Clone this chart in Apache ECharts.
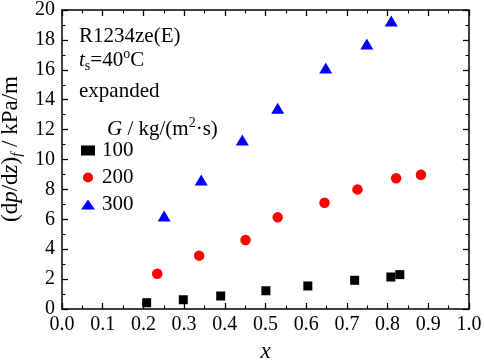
<!DOCTYPE html>
<html><head><meta charset="utf-8">
<script src="https://cdn.jsdelivr.net/npm/echarts@6/dist/echarts.min.js"></script>
<style>html,body{margin:0;padding:0;background:#fff}#c{width:484px;height:362px}</style>
</head><body><div id="c"></div>
<script>
var seriesNames = ['100', '200', '300'];
var x100 = [0.208, 0.298, 0.390, 0.501, 0.604, 0.719, 0.808, 0.830];
var y100 = [0.42, 0.62, 0.87, 1.22, 1.54, 1.92, 2.14, 2.30];
var x200 = [0.234, 0.337, 0.451, 0.530, 0.645, 0.726, 0.821, 0.882];
var y200 = [2.36, 3.57, 4.62, 6.13, 7.11, 8.00, 8.74, 8.98];
var x300 = [0.251, 0.342, 0.443, 0.530, 0.648, 0.749, 0.809];
var y300 = [6.22, 8.63, 11.30, 13.42, 16.12, 17.73, 19.26];

function pairs(xs, ys){ return xs.map(function(v,i){return [v, ys[i]];}); }

var FONT = '"Liberation Serif", "Times New Roman", serif';
var chart = echarts.init(document.getElementById('c'), null, {renderer:'canvas'});
var axisCommon = {
  axisLine:{show:true, onZero:false, lineStyle:{color:'#000', width:1.5}},
  axisTick:{show:true, inside:true, length:6, lineStyle:{color:'#000', width:1.3}},
  minorTick:{show:true, splitNumber:2, length:3.5, lineStyle:{color:'#000', width:1.1}},
  splitLine:{show:false}
};
function ax(extra){ return Object.assign({}, JSON.parse(JSON.stringify(axisCommon)), extra); }

chart.setOption({
  animation:false,
  backgroundColor:'#fff',
  grid:{left:62, right:15, top:10, bottom:53, containLabel:false, outerBoundsMode:'none'},
  xAxis:[
    ax({type:'value', min:0, max:1, interval:0.1, position:'bottom',
      axisLabel:{color:'#000', fontFamily:FONT, fontSize:20, margin:6, formatter:function(v){return v.toFixed(1);}},
      name:'x', nameLocation:'middle', nameGap:31,
      nameTextStyle:{color:'#000', fontFamily:FONT, fontSize:23, fontStyle:'italic'}}),
    ax({type:'value', min:0, max:1, interval:0.1, position:'top', axisLabel:{show:false}})
  ],
  yAxis:[
    ax({type:'value', min:0, max:20, interval:2, position:'left',
      axisLabel:{color:'#000', fontFamily:FONT, fontSize:20, margin:7}}),
    ax({type:'value', min:0, max:20, interval:2, position:'right', axisLabel:{show:false}})
  ],
  legend:{
    data:seriesNames, orient:'vertical', left:81, top:140, padding:0,
    itemWidth:14, itemHeight:10, itemGap:6,
    textStyle:{color:'#000', fontFamily:FONT, fontSize:21, lineHeight:21, padding:[0,0,0,2]}
  },
  graphic:[
    {type:'text', x:11, y:149, rotation:Math.PI/2, style:{
      text:'{n|(d}{i|p}{n|/d}{i|z}{n|)}{s|f}{n| / kPa/m}',
      align:'center', verticalAlign:'middle',
      rich:{
        n:{font:'23px '+FONT, fill:'#000', lineHeight:28},
        i:{font:'italic 23px '+FONT, fill:'#000', lineHeight:28},
        s:{font:'italic 15px '+FONT, fill:'#000', lineHeight:15, verticalAlign:'bottom'}
      }}},
    {type:'text', x:79, y:36, style:{text:'R1234ze(E)', font:'21px '+FONT, fill:'#000', verticalAlign:'middle'}},
    {type:'text', x:79, y:60, style:{
      text:'{i|t}{s|s}{n|=40}{u|o}{n|C}', verticalAlign:'middle',
      rich:{
        n:{font:'21px '+FONT, fill:'#000', lineHeight:26},
        i:{font:'italic 21px '+FONT, fill:'#000', lineHeight:26},
        s:{font:'14px '+FONT, fill:'#000', lineHeight:14, verticalAlign:'bottom'},
        u:{font:'14px '+FONT, fill:'#000', lineHeight:14, verticalAlign:'top'}
      }}},
    {type:'text', x:79, y:91, style:{text:'expanded', font:'21px '+FONT, fill:'#000', verticalAlign:'middle'}},
    {type:'text', x:107, y:129, style:{
      text:'{i|G}{n| / kg/(m}{u|2}{n|·s)}', verticalAlign:'middle',
      rich:{
        n:{font:'21px '+FONT, fill:'#000', lineHeight:26},
        i:{font:'italic 21px '+FONT, fill:'#000', lineHeight:26},
        u:{font:'14px '+FONT, fill:'#000', lineHeight:14, verticalAlign:'top'}
      }}}
  ],
  series:[
    {name:'100', type:'scatter', symbol:'rect', symbolSize:9, itemStyle:{color:'#000', opacity:1}, data:pairs(x100,y100)},
    {name:'200', type:'scatter', symbol:'circle', symbolSize:10.5, itemStyle:{color:'#ff0000', opacity:1}, data:pairs(x200,y200)},
    {name:'300', type:'scatter', symbol:'triangle', symbolSize:[13,11], itemStyle:{color:'#0000ff', opacity:1}, data:pairs(x300,y300)}
  ]
});
</script></body></html>
